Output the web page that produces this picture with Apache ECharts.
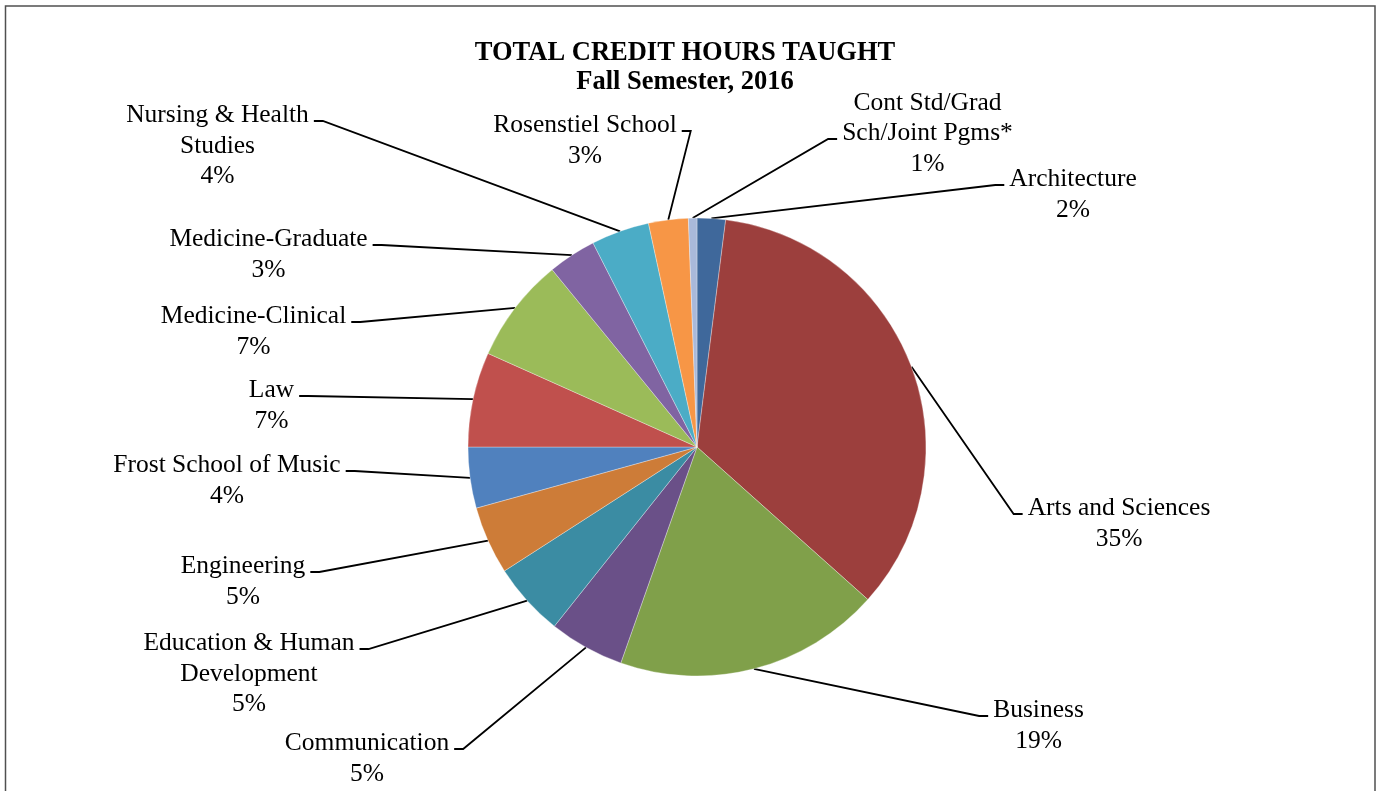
<!DOCTYPE html>
<html>
<head>
<meta charset="utf-8">
<script src="https://cdn.jsdelivr.net/npm/echarts@6/dist/echarts.min.js"></script>
<style>
html,body{margin:0;padding:0;background:#fff;}
#chart{width:1382px;height:791px;}
</style>
</head>
<body>
<div id="chart"></div>
<script>
// ---- data ----
var titleLines = ['TOTAL CREDIT HOURS TAUGHT', 'Fall Semester, 2016'];
var categories = [
  'Architecture',
  'Arts and Sciences',
  'Business',
  'Communication',
  'Education & Human\nDevelopment',
  'Engineering',
  'Frost School of Music',
  'Law',
  'Medicine-Clinical',
  'Medicine-Graduate',
  'Nursing & Health\nStudies',
  'Rosenstiel School',
  'Cont Std/Grad\nSch/Joint Pgms*'
];
var shares = [2.0, 34.6, 18.8, 5.3, 5.2, 4.8, 4.3, 6.7, 7.4, 3.4, 4.1, 2.8, 0.6];

// ---- styles / layout (not data) ----
var colors = ['#3F689B', '#9C3F3D', '#80A04A', '#6A5088', '#3B8CA3', '#CD7C38',
              '#5081BE', '#C0504D', '#9BBB59', '#8064A2', '#4BACC6', '#F79646', '#A9B9DA'];
// label centre x, attachment y, line index of attachment
var labelX   = [1073, 1119, 1038.5, 367, 249, 243, 227, 271.5, 253.5, 268.5, 217.5, 585, 927.5];
var labelY   = [185, 514, 716, 749, 649, 572, 471, 396, 322, 245, 121, 131, 139];
var attachLn = [0, 0, 0, 0, 0, 0, 0, 0, 0, 0, 0, 0, 1];

var FS = 25.5, LH = 30.5;
var rich = {
  t: { fontFamily: 'Liberation Serif', fontSize: FS, lineHeight: LH, color: '#000', align: 'center', padding: [0, 5, 0, 5] }
};
var spacer = categories.map(function (c, i) {
  var n = c.split('\n').length + 1;
  var d = 2 * (LH * attachLn[i] + 20.6) - LH * n; // >0: spacer below, <0: spacer above
  rich['s' + i] = { fontSize: 1, lineHeight: Math.abs(d) };
  return d;
});

var data = categories.map(function (c, i) {
  return { name: c, value: shares[i], itemStyle: { color: colors[i] } };
});

var chart = echarts.init(document.getElementById('chart'), null, { renderer: 'canvas' });
chart.setOption({
  backgroundColor: '#ffffff',
  animation: false,
  title: {
    text: titleLines.join('\n'),
    left: 685,
    top: 39,
    padding: 0,
    textAlign: 'center',
    textStyle: {
      fontFamily: 'Liberation Serif',
      fontWeight: 'bold',
      fontSize: 26.5,
      lineHeight: 28.5,
      color: '#000'
    }
  },
  graphic: [{
    type: 'rect',
    shape: { x: 5.5, y: 6, width: 1369.5, height: 800 },
    style: { fill: 'none', stroke: '#505050', lineWidth: 1.5 },
    silent: true
  }],
  series: [{
    type: 'pie',
    center: [697, 447],
    radius: 229,
    startAngle: 90,
    clockwise: true,
    avoidLabelOverlap: false,
    percentPrecision: 2,
    data: data,
    itemStyle: { borderColor: 'rgba(255,255,255,0.45)', borderWidth: 0.7 },
    label: {
      show: true,
      position: 'outside',
      formatter: function (p) {
        var i = p.dataIndex;
        var lines = p.name.split('\n').concat([Math.round(p.percent) + '%']);
        var parts = lines.map(function (l) { return '{t|' + l + '}'; });
        if (spacer[i] < 0) parts.unshift('{s' + i + '| }');
        else if (spacer[i] > 0) parts.push('{s' + i + '| }');
        return parts.join('\n');
      },
      rich: rich,
      fontFamily: 'Liberation Serif',
      fontSize: FS,
      lineHeight: LH,
      color: '#000',
      align: 'center'
    },
    labelLine: {
      show: true,
      length: 15,
      length2: 9,
      minTurnAngle: 0,
      lineStyle: { color: '#000', width: 1.8 }
    },
    labelLayout: function (params) {
      var i = params.dataIndex;
      return {
        x: labelX[i],
        y: labelY[i],
        align: 'center',
        verticalAlign: 'middle',
        hideOverlap: false
      };
    },
    emphasis: { disabled: true }
  }]
});
</script>
</body>
</html>
